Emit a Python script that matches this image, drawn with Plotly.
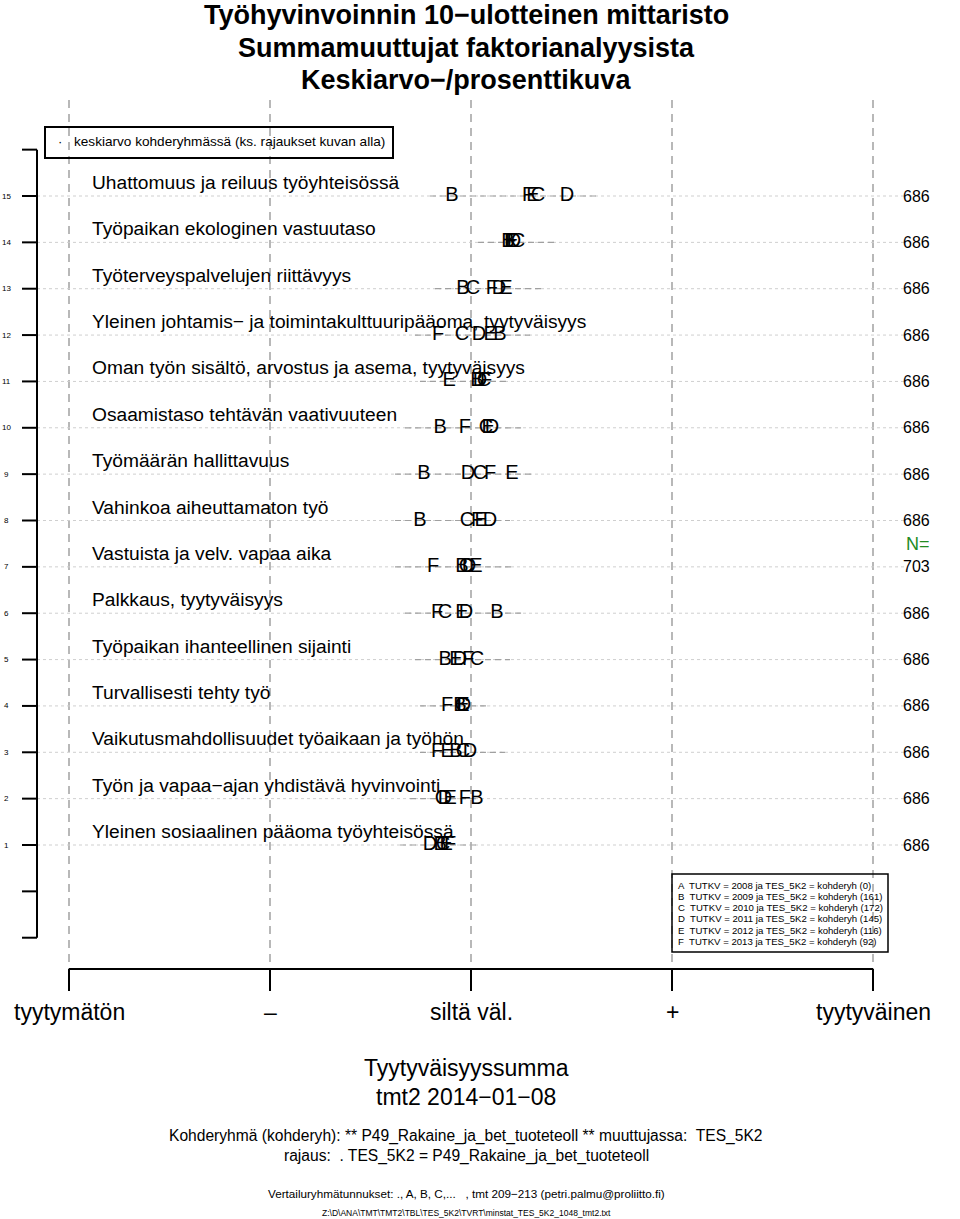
import plotly.graph_objects as go

# ---------------- data ----------------
rows = list(range(1, 16))
row_labels = [
    "Yleinen sosiaalinen pääoma työyhteisössä",
    "Työn ja vapaa−ajan yhdistävä hyvinvointi",
    "Vaikutusmahdollisuudet työaikaan ja työhön",
    "Turvallisesti tehty työ",
    "Työpaikan ihanteellinen sijainti",
    "Palkkaus, tyytyväisyys",
    "Vastuista ja velv. vapaa aika",
    "Vahinkoa aiheuttamaton työ",
    "Työmäärän hallittavuus",
    "Osaamistaso tehtävän vaativuuteen",
    "Oman työn sisältö, arvostus ja asema, tyytyväisyys",
    "Yleinen johtamis− ja toimintakulttuuripääoma, tyytyväisyys",
    "Työterveyspalvelujen riittävyys",
    "Työpaikan ekologinen vastuutaso",
    "Uhattomuus ja reiluus työyhteisössä",
]
n_values = [686, 686, 686, 686, 686, 686, 703, 686, 686, 686, 686, 686, 686, 686, 686]

group_B = [2.846, 3.030, 2.925, 2.945, 2.871, 3.129, 2.955, 2.746, 2.766, 2.846, 3.030, 3.144, 2.960, 3.184, 2.905]
group_C = [2.861, 2.856, 2.960, 2.955, 3.030, 2.871, 2.975, 2.980, 3.045, 3.075, 3.065, 2.955, 3.010, 3.234, 3.333]
group_D = [2.796, 2.871, 2.995, 2.965, 2.945, 2.975, 2.990, 3.095, 2.985, 3.104, 3.045, 3.040, 3.139, 3.214, 3.478]
group_E = [2.876, 2.896, 2.881, 2.960, 2.925, 2.955, 3.025, 3.050, 3.204, 3.085, 2.891, 3.095, 3.174, 3.204, 3.308]
group_F = [2.896, 2.970, 2.831, 2.881, 2.985, 2.831, 2.811, 3.030, 3.095, 2.970, 3.075, 2.836, 3.104, 3.194, 3.284]
groups = {"B": group_B, "C": group_C, "D": group_D, "E": group_E, "F": group_F}

ci_lo = [2.647, 2.697, 2.746, 2.746, 2.721, 2.672, 2.622, 2.622, 2.622, 2.672, 2.746, 2.721, 2.821, 3.035, 2.796]
ci_hi = [3.045, 3.045, 3.169, 3.095, 3.194, 3.269, 3.219, 3.194, 3.318, 3.269, 3.194, 3.294, 3.368, 3.418, 3.642]

scale_ticks = [1, 2, 3, 4, 5]
scale_labels = ["tyytymätön", "–", "siltä väl.", "+", "tyytyväinen"]

legend_lines = [
    "A  TUTKV = 2008 ja TES_5K2 = kohderyh (0)",
    "B  TUTKV = 2009 ja TES_5K2 = kohderyh (161)",
    "C  TUTKV = 2010 ja TES_5K2 = kohderyh (172)",
    "D  TUTKV = 2011 ja TES_5K2 = kohderyh (145)",
    "E  TUTKV = 2012 ja TES_5K2 = kohderyh (116)",
    "F  TUTKV = 2013 ja TES_5K2 = kohderyh (92)",
]

# ---------------- geometry helpers ----------------
W, H = 960, 1219
X1PX, X5PX = 69.0, 873.0
R1PY, R15PY = 845.0, 196.0
DY = (R1PY - R15PY) / 14.0

def vx(px):
    return 1 + (px - X1PX) * 4.0 / (X5PX - X1PX)

def vy(py):
    return 1 + (R1PY - py) / DY

def pxp(px):
    return px / W

def pyp(py):
    return 1 - py / H

FONT = "Liberation Sans, Arial, Helvetica, sans-serif"

fig = go.Figure()

def seg(x0, y0, x1, y1, color="black", width=1.0, dash="solid"):
    fig.add_trace(go.Scatter(x=[x0, x1], y=[y0, y1], mode="lines",
                             line=dict(color=color, width=width, dash=dash),
                             hoverinfo="skip", showlegend=False))

# vertical dashed reference lines
for t in scale_ticks:
    seg(t, vy(100), t, vy(969), color="#b8b8b8", width=2, dash="8px,6px")

# horizontal dotted row lines
for r in rows:
    seg(vx(37), r, vx(905), r, color="#cfcfcf", width=1, dash="dot")

# CI dashed segments
for r, lo, hi in zip(rows, ci_lo, ci_hi):
    seg(lo, r, hi, r, color="#a0a0a0", width=1.2, dash="6px,4px")

# left axis
seg(vx(37), 16, vx(37), -1, color="black", width=2)
for t in list(range(-1, 17)):
    seg(vx(22), t, vx(37), t, color="black", width=2)

# bottom axis
seg(1, vy(969), 5, vy(969), color="black", width=2)
for t in scale_ticks:
    seg(t, vy(969), t, vy(991), color="black", width=2)

# letters
for g, vals in groups.items():
    fig.add_trace(go.Scatter(x=vals, y=rows, mode="text", text=[g] * len(rows),
                             textposition="middle center",
                             textfont=dict(family=FONT, size=20, color="black"),
                             hoverinfo="skip", showlegend=False))

annotations = []

# row labels
for r, lab in zip(rows, row_labels):
    annotations.append(dict(x=vx(90), y=r + 13.5 / DY, xref="x", yref="y", text=lab,
                            showarrow=False, xanchor="left", yanchor="middle",
                            font=dict(family=FONT, size=19.2, color="black")))
# left tick labels
for r in rows:
    annotations.append(dict(x=vx(6), y=r, xref="x", yref="y", text=str(r),
                            showarrow=False, xanchor="center", yanchor="middle",
                            font=dict(family=FONT, size=8, color="black")))
# N values
for r, n in zip(rows, n_values):
    annotations.append(dict(x=vx(916), y=r, xref="x", yref="y", text=str(n),
                            showarrow=False, xanchor="center", yanchor="middle",
                            font=dict(family=FONT, size=16, color="black")))
annotations.append(dict(x=vx(918), y=vy(544), xref="x", yref="y", text="N=",
                        showarrow=False, xanchor="center", yanchor="middle",
                        font=dict(family=FONT, size=18, color="#228b22")))

# bottom scale labels
for t, lab in zip(scale_ticks, scale_labels):
    annotations.append(dict(x=t, y=vy(1012), xref="x", yref="y", text=lab,
                            showarrow=False, xanchor="center", yanchor="middle",
                            font=dict(family=FONT, size=23, color="black")))

# titles
for py, txt in [(15, "Työhyvinvoinnin 10−ulotteinen mittaristo"),
                (48, "Summamuuttujat faktorianalyysista"),
                (80, "Keskiarvo−/prosenttikuva")]:
    annotations.append(dict(x=pxp(466), y=pyp(py), xref="paper", yref="paper", text="<b>%s</b>" % txt,
                            showarrow=False, xanchor="center", yanchor="middle",
                            font=dict(family=FONT, size=27, color="black")))

# top legend box
annotations.append(dict(x=pxp(60), y=pyp(142), xref="paper", yref="paper", text="·",
                        showarrow=False, xanchor="center", yanchor="middle",
                        font=dict(family=FONT, size=13, color="black")))
annotations.append(dict(x=pxp(72), y=pyp(142), xref="paper", yref="paper",
                        text="keskiarvo kohderyhmässä (ks. rajaukset kuvan alla)",
                        showarrow=False, xanchor="left", yanchor="middle",
                        font=dict(family=FONT, size=13.6, color="black")))

# right legend box
for i, line in enumerate(legend_lines):
    annotations.append(dict(x=pxp(676), y=pyp(885 + i * 11.3), xref="paper", yref="paper",
                            text=line, showarrow=False, xanchor="left", yanchor="middle",
                            font=dict(family=FONT, size=9.6, color="black")))

# bottom texts
for py, txt, sz in [(1068, "Tyytyväisyyssumma", 23),
                    (1097, "tmt2 2014−01−08", 23),
                    (1136, "Kohderyhmä (kohderyh): ** P49_Rakaine_ja_bet_tuoteteoll ** muuttujassa:  TES_5K2", 15.6),
                    (1156, "rajaus:  . TES_5K2 = P49_Rakaine_ja_bet_tuoteteoll", 15.6),
                    (1193, "Vertailuryhmätunnukset: ., A, B, C,...   , tmt 209−213 (petri.palmu@proliitto.fi)", 11.7),
                    (1213, "Z:\\D\\ANA\\TMT\\TMT2\\TBL\\TES_5K2\\TVRT\\minstat_TES_5K2_1048_tmt2.txt", 8.5)]:
    annotations.append(dict(x=pxp(466), y=pyp(py), xref="paper", yref="paper", text=txt,
                            showarrow=False, xanchor="center", yanchor="middle",
                            font=dict(family=FONT, size=sz, color="black")))

shapes = [
    dict(type="rect", xref="paper", yref="paper", x0=pxp(45), x1=pxp(393), y0=pyp(158), y1=pyp(127),
         line=dict(color="black", width=2), fillcolor="rgba(0,0,0,0)"),
    dict(type="rect", xref="paper", yref="paper", x0=pxp(672), x1=pxp(888), y0=pyp(952), y1=pyp(874),
         line=dict(color="black", width=1.5), fillcolor="rgba(0,0,0,0)"),
]

fig.update_layout(
    width=W, height=H,
    margin=dict(l=0, r=0, t=0, b=0),
    paper_bgcolor="white", plot_bgcolor="white",
    xaxis=dict(range=[vx(0), vx(W)], visible=False, fixedrange=True),
    yaxis=dict(range=[vy(H), vy(0)], visible=False, fixedrange=True),
    annotations=annotations,
    shapes=shapes,
    showlegend=False,
)

fig.write_html("out.html",
               config={"displayModeBar": False},
               post_script="document.body.style.margin='0px';document.body.style.padding='0px';")
